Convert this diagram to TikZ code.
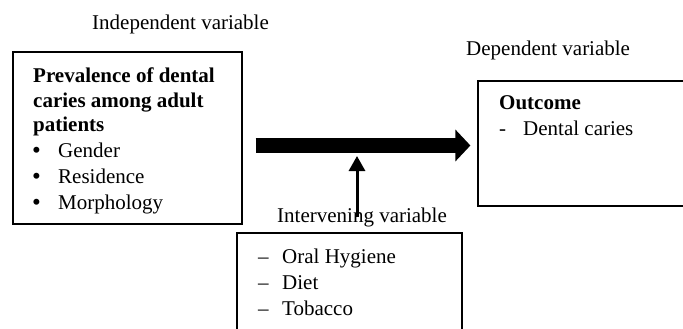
\documentclass[tikz,border=0pt]{standalone}
\usepackage{fontspec}
\setmainfont{Liberation Serif}
\usetikzlibrary{arrows.meta}
\newcommand{\bulletmark}{\raisebox{-1.5pt}{\fontsize{25}{25}\selectfont•}}
\begin{document}
\begin{tikzpicture}[x=1pt,y=-1pt,
  every node/.style={font=\fontsize{21}{25}\selectfont},
  box/.style={draw,line width=1.2pt,inner sep=0pt},
  txt/.style={anchor=base west,inner sep=0pt},
  bold/.style={txt,font=\fontsize{21}{25}\selectfont\bfseries},
  bigarrow/.style={line width=15pt,-{Triangle[length=15pt,width=31pt]}},
  smallarrow/.style={line width=3pt,-{Triangle[length=15pt,width=16pt]}}]
\useasboundingbox (0,0) rectangle (683,329);
\clip (0,0) rectangle (683,329);
% boxes
\node[box,minimum width=229pt,minimum height=172pt] (ind) at (127.5,138) {};
\node[box,minimum width=222pt,minimum height=125pt] (dep) at (589,143.5) {};
\node[box,minimum width=225pt,minimum height=110pt] (inter) at (349.5,288) {};
% headings
\node[txt] (indlabel) at (92,30) {Independent variable};
\node[txt] (deplabel) at (466,56) {Dependent variable};
\node[txt] (interlabel) at (277,222) {Intervening variable};
% independent variable box
\node[bold] (prev1) at (33,82) {Prevalence of dental};
\node[bold] (prev2) at (33,107) {caries among adult};
\node[bold] (prev3) at (33,131) {patients};
\node[txt] (b1) at (32,157) {\bulletmark};
\node[txt] (gender) at (58,157) {Gender};
\node[txt] (b2) at (32,183) {\bulletmark};
\node[txt] (residence) at (58,183) {Residence};
\node[txt] (b3) at (32,209) {\bulletmark};
\node[txt] (morph) at (58,209) {Morphology};
% dependent variable box
\node[bold] (outcome) at (499,110) {Outcome};
\node[txt] (d0) at (499,135) {-};
\node[txt] (caries) at (523,135) {Dental caries};
% intervening variable box
\node[txt] (d1) at (258,263) {–};
\node[txt] (hygiene) at (282,263) {Oral Hygiene};
\node[txt] (d2) at (258,289) {–};
\node[txt] (diet) at (282,289) {Diet};
\node[txt] (d3) at (258,315) {–};
\node[txt] (tobacco) at (282,315) {Tobacco};
% arrows
\coordinate (mid) at (0,145.5);
\coordinate (foot) at (357,217);
\draw[bigarrow,shorten <=13pt,shorten >=7pt] (ind.east |- mid) -- (dep.west |- mid);
\draw[smallarrow,shorten >=10.5pt] (foot) -- (foot |- mid);
\end{tikzpicture}
\end{document}
